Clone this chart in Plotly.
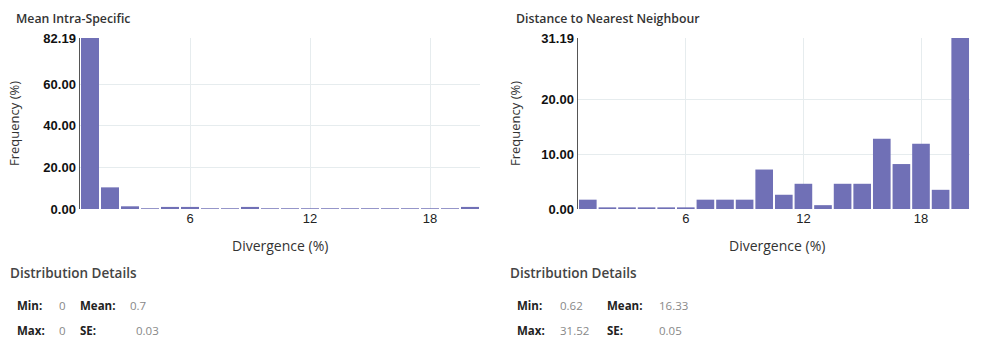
import plotly.graph_objects as go

W, H = 982, 338

# ---- data ----
bins = list(range(1, 21))
intra_values = [82.19, 10.4, 1.3, 0.35, 1.0, 1.0, 0.35, 0.35, 1.0, 0.35,
                0.35, 0.35, 0.35, 0.35, 0.35, 0.35, 0.35, 0.35, 0.35, 1.0]
nn_values = [1.7, 0.3, 0.3, 0.3, 0.3, 0.3, 1.7, 1.7, 1.7, 7.2,
             2.6, 4.6, 0.7, 4.6, 4.6, 12.8, 8.2, 11.9, 3.5, 31.19]

intra_yticks = [0, 20, 40, 60, 82.19]
intra_yticktext = ["0.00", "20.00", "40.00", "60.00", "82.19"]
nn_yticks = [0, 10, 20, 31.19]
nn_yticktext = ["0.00", "10.00", "20.00", "31.19"]
x_ticks = [6, 12, 18]

titles = ["Mean Intra-Specific", "Distance to Nearest Neighbour"]
intra_stats = [("Min:", "0", "Mean:", "0.7"), ("Max:", "0", "SE:", "0.03")]
nn_stats = [("Min:", "0.62", "Mean:", "16.33"), ("Max:", "31.52", "SE:", "0.05")]

BAR = "#7070B6"
GRID = "#E6ECEE"
FONT = "Open Sans"


def px(x):
    return x / W


def py(y):
    return 1 - y / H


fig = go.Figure()
fig.add_trace(go.Bar(x=bins, y=intra_values, marker=dict(color=BAR, line=dict(width=0)),
                     xaxis="x", yaxis="y", showlegend=False))
fig.add_trace(go.Bar(x=bins, y=nn_values, marker=dict(color=BAR, line=dict(width=0)),
                     xaxis="x2", yaxis="y2", showlegend=False))

top, bottom = 38, 209
xcommon = dict(range=[0.5, 20.5], tickvals=x_ticks, ticktext=[str(t) for t in x_ticks],
               showgrid=True, gridcolor=GRID, gridwidth=1, zeroline=False, showline=False,
               ticks="", tickfont=dict(family="Liberation Sans", size=13, color="#222"),
               fixedrange=True, automargin=False)
ycommon = dict(showgrid=True, gridcolor=GRID, gridwidth=1, zeroline=False, showline=True,
               linecolor="#555", linewidth=1.5, ticks="",
               tickfont=dict(family="Liberation Sans", size=13, color="#111", weight="bold"),
               domain=[py(bottom), py(top)], fixedrange=True, automargin=False)

fig.update_layout(
    width=W, height=H, autosize=False,
    margin=dict(l=0, r=0, t=0, b=0, pad=0, autoexpand=False),
    paper_bgcolor="white", plot_bgcolor="white",
    bargap=0.1,
    font=dict(family=FONT),
    xaxis=dict(domain=[px(80), px(480)], anchor="y", **xcommon),
    xaxis2=dict(domain=[px(578), px(970)], anchor="y2", **xcommon),
    yaxis=dict(anchor="x", range=[0, 82.19], tickvals=intra_yticks, ticktext=intra_yticktext, **ycommon),
    yaxis2=dict(anchor="x2", range=[0, 31.19], tickvals=nn_yticks, ticktext=nn_yticktext, **ycommon),
)

ann = []
# chart titles
for x0, t in zip([14, 514], titles):
    ann.append(dict(x=px(x0), y=py(18), text=t, xanchor="left", yanchor="middle",
                    font=dict(family=FONT, size=12.3, color="#333", weight=600)))
# axis titles
for xc, yx in [(14, 280), (515, 777)]:
    ann.append(dict(x=px(xc), y=py(124), text="Frequency (%)", textangle=-90,
                    xanchor="center", yanchor="middle",
                    font=dict(family=FONT, size=13, color="#333")))
    ann.append(dict(x=px(yx), y=py(245), text="Divergence (%)", xanchor="center", yanchor="middle",
                    font=dict(family=FONT, size=14, color="#333")))
# distribution details
for x0, stats, cols in [(8, intra_stats, (15, 57, 78, (128, 134))),
                        (508, nn_stats, (515, 558, 605, (657, 657)))]:
    ann.append(dict(x=px(x0), y=py(273), text="Distribution Details", xanchor="left", yanchor="middle",
                    font=dict(family=FONT, size=13.5, color="#444", weight=600)))
    for r, (row_y, row) in enumerate(zip([305, 330], stats)):
        for i, txt in enumerate(row):
            cx = cols[i] if i < 3 else cols[3][r]
            bold = i % 2 == 0
            ann.append(dict(x=px(cx), y=py(row_y), text=txt, xanchor="left", yanchor="middle",
                            font=dict(family=FONT, size=11.5,
                                      color="#222" if bold else "#888",
                                      weight="bold" if bold else "normal")))
for a in ann:
    a.update(xref="paper", yref="paper", showarrow=False)
fig.update_layout(annotations=ann)

fig.write_html(
    "out.html",
    config={"displayModeBar": False, "staticPlot": True},
    post_script="document.body.style.margin='0';document.body.style.overflow='hidden';",
)
